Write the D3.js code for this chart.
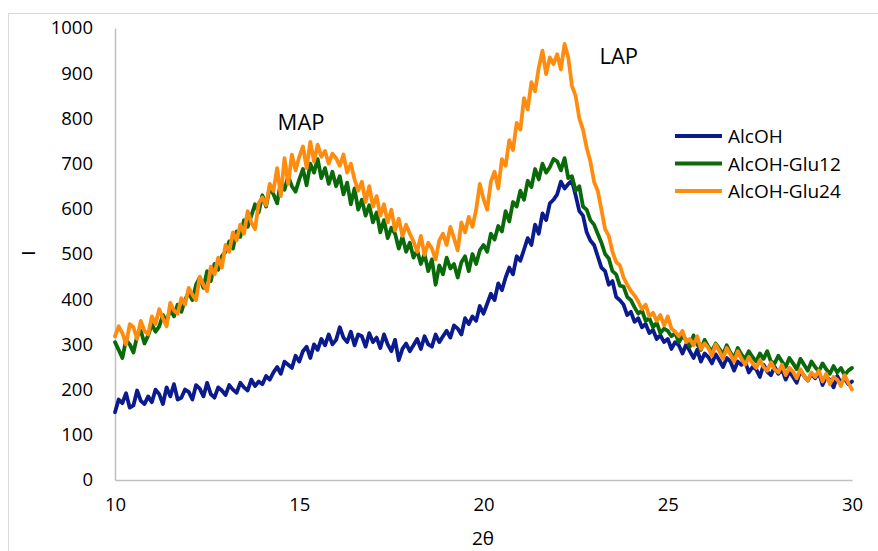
<!DOCTYPE html>
<html>
<head>
<meta charset="utf-8">
<script src="https://d3js.org/d3.v7.min.js"></script>
<style>
  body { margin: 0; background: #fff; }
  text { font-family: "Open Sans", "Noto Sans", sans-serif; fill: #000; }
</style>
</head>
<body>
<svg id="chart" width="878" height="551"></svg>
<script>
// 2θ grid: 10.0 .. 30.0 every 0.1
var twoTheta = d3.range(0, 201).map(function(i) { return +(10 + i / 10).toFixed(1); });

var alcoh = [
  150, 178, 170, 192, 160, 165, 198, 175, 168, 185,
  172, 200, 190, 168, 205, 185, 212, 178, 182, 200,
  195, 178, 210, 202, 185, 215, 190, 182, 205, 198,
  188, 210, 200, 193, 215, 205, 198, 222, 208, 218,
  212, 230, 222, 238, 250, 235, 262, 255, 248, 275,
  262, 285, 295, 270, 300, 288, 312, 298, 322, 300,
  310, 338, 315, 305, 328, 298, 322, 318, 295, 325,
  305, 315, 292, 322, 300, 285, 310, 265, 290, 302,
  285, 298, 312, 290, 318, 300, 295, 322, 305, 318,
  330, 315, 342, 335, 322, 358, 345, 362, 352, 385,
  368, 390, 412, 398, 435, 420, 448, 470, 455, 495,
  485, 510, 535, 520, 565, 545, 590, 575, 612, 620,
  632, 660, 645, 655, 662, 630, 595, 585, 548, 530,
  520, 495, 470, 462, 432, 440, 405, 398, 388, 365,
  372, 350, 358, 338, 345, 325, 332, 312, 320, 305,
  312, 290, 305, 298, 280, 300, 285, 270, 288, 262,
  280, 272, 258, 278, 265, 250, 270, 262, 242, 262,
  255, 262, 238, 250, 245, 228, 255, 240, 232, 250,
  235, 245, 222, 240, 228, 215, 242, 230, 220, 235,
  225, 238, 210, 228, 222, 205, 230, 215, 225, 212,
  218
];

var glu12 = [
  305, 288, 270, 310, 300, 282, 318, 330, 302, 320,
  345, 328, 340, 365, 350, 378, 362, 388, 372, 398,
  415, 398, 432, 448, 425, 462, 440, 478, 465, 495,
  505, 528, 512, 550, 538, 575, 560, 585, 610, 592,
  630, 605, 648, 632, 612, 660, 642, 672, 650, 638,
  665, 688, 652, 700, 680, 710, 668, 690, 655, 682,
  650, 672, 632, 658, 610, 645, 598, 620, 585, 608,
  570, 592, 548, 575, 535, 558, 545, 512, 538, 505,
  525, 492, 508, 478, 500, 462, 488, 432, 475, 455,
  492, 468, 478, 448, 482, 495, 462, 500, 478, 508,
  520, 505, 545, 532, 562, 550, 595, 572, 615, 605,
  640, 620, 662, 648, 688, 665, 700, 680, 692, 710,
  705, 685, 712, 668, 672, 640, 650, 605, 598, 575,
  565, 545, 525, 500, 490, 462, 455, 430, 428, 405,
  398, 382, 368, 375, 352, 358, 338, 348, 325, 335,
  330, 318, 325, 305, 318, 310, 295, 320, 300, 288,
  310, 295, 285, 302, 290, 278, 298, 282, 270, 292,
  278, 268, 285, 272, 262, 280, 268, 285, 262, 258,
  275, 262, 250, 270, 258, 245, 268, 255, 242, 262,
  250, 240, 258, 245, 235, 252, 238, 248, 232, 242,
  248
];

var glu24 = [
  318, 340, 325, 300, 345, 338, 312, 352, 330, 322,
  362, 345, 378, 358, 340, 392, 375, 368, 402, 388,
  425, 410, 398, 450, 432, 418, 472, 455, 492, 470,
  520, 505, 548, 530, 565, 545, 595, 570, 555, 612,
  625, 608, 655, 640, 690, 628, 712, 655, 720, 685,
  715, 738, 690, 748, 705, 742, 715, 728, 700, 722,
  712, 695, 720, 680, 700, 665, 640, 660, 615, 650,
  605, 628, 585, 610, 570, 598, 552, 578, 540, 565,
  545, 528, 505, 540, 498, 525, 512, 488, 530, 545,
  520, 560, 535, 508, 570, 548, 582, 560, 598, 655,
  622, 598, 660, 682, 645, 710, 695, 752, 730, 790,
  775, 845, 820, 880, 860, 912, 950, 898, 935, 920,
  942, 908, 965, 935, 872, 850, 800, 775, 735, 705,
  660, 640, 598, 555, 540, 505, 482, 475, 448, 432,
  418, 408, 395, 378, 388, 362, 370, 352, 365, 342,
  362, 335, 328, 318, 330, 305, 312, 298, 318, 290,
  302, 292, 275, 300, 285, 268, 292, 278, 262, 285,
  268, 255, 272, 258, 248, 265, 250, 242, 260, 245,
  238, 255, 232, 248, 240, 225, 245, 230, 220, 238,
  228, 242, 218, 235, 212, 228, 222, 208, 232, 215,
  200
];

var seriesNames = ["AlcOH", "AlcOH-Glu12", "AlcOH-Glu24"];
var seriesValues = [alcoh, glu12, glu24];
var colors = ["#0b1a8c", "#0a6a0a", "#ff8c0f"];
var xTicks = [10, 15, 20, 25, 30];
var yTicks = [0, 100, 200, 300, 400, 500, 600, 700, 800, 900, 1000];
var peakLabels = [{ text: "MAP", x: 15.05, y: 775 }, { text: "LAP", x: 23.67, y: 920 }];

var svg = d3.select("#chart");

// outer chart border (right and bottom edges fall outside the picture)
svg.append("rect")
  .attr("x", 8.5).attr("y", 13.5)
  .attr("width", 900).attr("height", 560)
  .attr("fill", "none").attr("stroke", "#d9d9d9").attr("stroke-width", 1);

var x = d3.scaleLinear().domain([10, 30]).range([115, 852]);
var y = d3.scaleLinear().domain([0, 1000]).range([480, 28]);

// axes (no tick marks, Excel style)
var axisX = d3.axisBottom(x).tickValues(xTicks).tickSize(0).tickPadding(18).tickFormat(d3.format("d"));
var axisY = d3.axisLeft(y).tickValues(yTicks).tickSize(0).tickPadding(22).tickFormat(d3.format("d"));

var gx = svg.append("g").attr("transform", "translate(0,480)").call(axisX);
var gy = svg.append("g").attr("transform", "translate(115,0)").call(axisY);
[gx, gy].forEach(function(g) {
  g.select(".domain").attr("stroke", "#bfbfbf").attr("stroke-width", 1.5);
  g.selectAll("text").style("font-size", "18.5px").style("font-family", "'Open Sans', sans-serif").attr("fill", "#000");
});

var line = d3.line()
  .x(function(d, i) { return x(twoTheta[i]); })
  .y(function(d) { return y(d); });

seriesValues.forEach(function(vals, k) {
  svg.append("path")
    .datum(vals)
    .attr("fill", "none")
    .attr("stroke", colors[k])
    .attr("stroke-width", 3.8)
    .attr("stroke-linejoin", "round")
    .attr("stroke-linecap", "round")
    .attr("d", line);
});

// peak annotations
peakLabels.forEach(function(p) {
  svg.append("text")
    .attr("x", x(p.x)).attr("y", y(p.y))
    .attr("text-anchor", "middle")
    .style("font-size", "22px")
    .text(p.text);
});

// legend
var legend = svg.append("g").attr("transform", "translate(675,136)");
seriesNames.forEach(function(name, k) {
  var row = legend.append("g").attr("transform", "translate(0," + (k * 27.5) + ")");
  row.append("line").attr("x1", 0).attr("x2", 47).attr("y1", 0).attr("y2", 0)
    .attr("stroke", colors[k]).attr("stroke-width", 3.8);
  row.append("text").attr("x", 53).attr("y", 7).style("font-size", "19px").text(name);
});

// axis titles
svg.append("text").attr("x", 483).attr("y", 545).attr("text-anchor", "middle")
  .style("font-size", "19px").text("2θ");
svg.append("text").attr("transform", "translate(35,253) rotate(-90)").attr("text-anchor", "middle")
  .style("font-size", "19px").text("I");
</script>
</body>
</html>
